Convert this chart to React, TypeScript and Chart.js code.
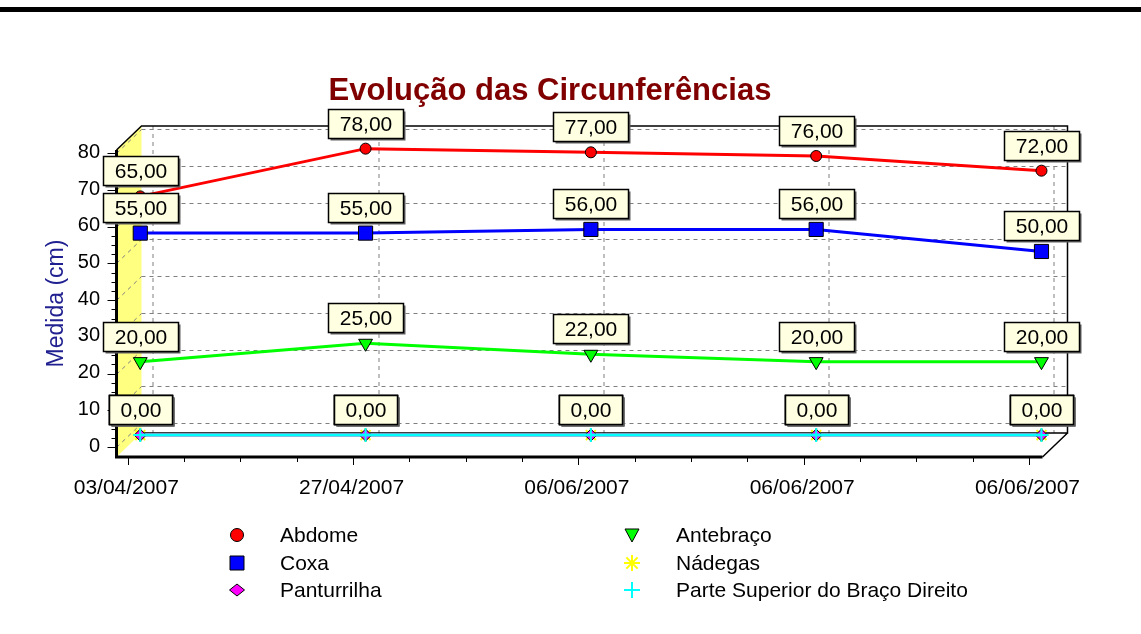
import React, { useEffect, useRef } from 'react';
import { Chart, registerables } from 'chart.js';

Chart.register(...registerables);

// ---- data ----
const dates = ['03/04/2007', '27/04/2007', '06/06/2007', '06/06/2007', '06/06/2007'];
const abdome = [65, 78, 77, 76, 72];
const coxa = [55, 55, 56, 56, 50];
const panturrilha = [0, 0, 0, 0, 0];
const antebraco = [20, 25, 22, 20, 20];
const nadegas = [0, 0, 0, 0, 0];
const bracoDireito = [0, 0, 0, 0, 0];
const yTickValues = [0, 10, 20, 30, 40, 50, 60, 70, 80];
const seriesNames = ['Abdome', 'Coxa', 'Panturrilha', 'Antebraço', 'Nádegas', 'Parte Superior do Braço Direito'];
const seriesValues = [abdome, coxa, panturrilha, antebraco, nadegas, bracoDireito];
const seriesColors = ['#ff0000', '#0000ff', '#ff00ff', '#00ff00', '#ffff00', '#00ffff'];
const seriesMarkers = ['circle', 'rect', 'rectRot', 'triangle', 'star', 'cross'];
const chartTitle = 'Evolução das Circunferências';
const yAxisTitle = 'Medida (cm)';

const FONT = '"Liberation Sans", Arial, sans-serif';
const DX = 12.5; // half depth
const DY = -12;

function fmt(v: number) {
  return v.toFixed(2).replace('.', ',');
}

function drawLegendMarker(ctx: CanvasRenderingContext2D, style: string, x: number, y: number, color: string) {
  ctx.save();
  ctx.fillStyle = color;
  ctx.strokeStyle = '#000';
  ctx.lineWidth = 1;
  ctx.beginPath();
  if (style === 'circle') {
    ctx.arc(x, y, 6.5, 0, Math.PI * 2);
    ctx.fill();
    ctx.stroke();
  } else if (style === 'rect') {
    ctx.rect(x - 7, y - 7, 14, 14);
    ctx.fill();
    ctx.stroke();
  } else if (style === 'rectRot') {
    ctx.moveTo(x, y - 6);
    ctx.lineTo(x + 7.5, y);
    ctx.lineTo(x, y + 6);
    ctx.lineTo(x - 7.5, y);
    ctx.closePath();
    ctx.fill();
    ctx.stroke();
  } else if (style === 'triangle') {
    ctx.moveTo(x - 7, y - 6);
    ctx.lineTo(x + 7, y - 6);
    ctx.lineTo(x, y + 7);
    ctx.closePath();
    ctx.fill();
    ctx.stroke();
  } else if (style === 'star') {
    ctx.strokeStyle = color;
    ctx.lineWidth = 2;
    const r = 8;
    for (let k = 0; k < 4; k++) {
      const a = (k * Math.PI) / 4;
      ctx.moveTo(x - r * Math.cos(a), y - r * Math.sin(a));
      ctx.lineTo(x + r * Math.cos(a), y + r * Math.sin(a));
    }
    ctx.stroke();
  } else if (style === 'cross') {
    ctx.strokeStyle = color;
    ctx.lineWidth = 2;
    ctx.moveTo(x - 8, y);
    ctx.lineTo(x + 8, y);
    ctx.moveTo(x, y - 8);
    ctx.lineTo(x, y + 8);
    ctx.stroke();
  }
  ctx.restore();
}

const box3dPlugin = {
  id: 'box3d',
  beforeDraw(chart: any) {
    const ctx = chart.ctx as CanvasRenderingContext2D;
    ctx.save();
    ctx.fillStyle = '#ffffff';
    ctx.fillRect(0, 0, chart.width, chart.height);
    ctx.fillStyle = '#000';
    ctx.fillRect(0, 7, chart.width, 5);
    // title
    ctx.font = `bold 31px ${FONT}`;
    ctx.fillStyle = '#800000';
    ctx.textAlign = 'center';
    ctx.textBaseline = 'middle';
    ctx.fillText(chartTitle, 550, 91);
    ctx.restore();
  },
  beforeDatasetsDraw(chart: any) {
    const ctx = chart.ctx as CanvasRenderingContext2D;
    const { left, right, top, bottom } = chart.chartArea;
    const xs = chart.scales.x;
    const ys = chart.scales.y;
    const fL = left - DX, fR = right - DX, fT = top - DY, fB = bottom - DY;
    const bL = left + DX, bR = right + DX, bT = top + DY, bB = bottom + DY;
    ctx.save();
    // left wall
    ctx.fillStyle = '#ffff80';
    ctx.beginPath();
    ctx.moveTo(fL, fT);
    ctx.lineTo(bL, bT);
    ctx.lineTo(bL, bB);
    ctx.lineTo(fL, fB);
    ctx.closePath();
    ctx.fill();

    // grid lines on back wall and left wall
    ctx.strokeStyle = '#808080';
    ctx.lineWidth = 1;
    ctx.setLineDash([4, 4]);
    yTickValues.forEach((v) => {
      const py = Math.round(ys.getPixelForValue(v)) + 0.5;
      ctx.beginPath();
      ctx.moveTo(bL, py + DY);
      ctx.lineTo(bR, py + DY);
      ctx.stroke();
      ctx.beginPath();
      ctx.moveTo(fL, py - DY);
      ctx.lineTo(bL, py + DY);
      ctx.stroke();
    });
    dates.forEach((_, i) => {
      const px = Math.round(xs.getPixelForValue(i)) + 0.5;
      ctx.beginPath();
      ctx.moveTo(px + DX, bT);
      ctx.lineTo(px + DX, bB);
      ctx.stroke();
    });
    ctx.setLineDash([]);

    // back wall edges
    ctx.strokeStyle = '#000';
    ctx.lineWidth = 1.5;
    ctx.beginPath();
    ctx.moveTo(fL, fT);
    ctx.lineTo(bL, bT);
    ctx.lineTo(bR, bT);
    ctx.lineTo(bR, bB);
    ctx.lineTo(bL, bB);
    ctx.moveTo(bR, bB);
    ctx.lineTo(fR, fB);
    ctx.stroke();

    // front axes
    ctx.lineWidth = 3;
    ctx.beginPath();
    ctx.moveTo(fL, fT);
    ctx.lineTo(fL, fB);
    ctx.lineTo(fR, fB);
    ctx.stroke();

    // ticks
    ctx.lineWidth = 1;
    ctx.strokeStyle = '#000';
    ctx.beginPath();
    yTickValues.forEach((v, k) => {
      const py = Math.round(ys.getPixelForValue(v) - DY) + 0.5;
      ctx.moveTo(fL - 9, py);
      ctx.lineTo(fL, py);
      if (k < yTickValues.length - 1) {
        const step = (yTickValues[k + 1] - v) / 4;
        for (let m = 1; m < 4; m++) {
          const my = Math.round(ys.getPixelForValue(v + m * step) - DY) + 0.5;
          ctx.moveTo(fL - 5, my);
          ctx.lineTo(fL, my);
        }
      }
    });
    dates.forEach((_, i) => {
      const px = Math.round(xs.getPixelForValue(i) - DX) + 0.5;
      ctx.moveTo(px, fB);
      ctx.lineTo(px, fB + 8);
      if (i < dates.length - 1) {
        for (let m = 1; m < 4; m++) {
          const mx = Math.round(xs.getPixelForValue(i + m / 4) - DX) + 0.5;
          ctx.moveTo(mx, fB);
          ctx.lineTo(mx, fB + 5);
        }
      }
    });
    ctx.stroke();
    ctx.restore();
  },
  afterDraw(chart: any) {
    const ctx = chart.ctx as CanvasRenderingContext2D;
    const { top, bottom } = chart.chartArea;
    ctx.save();
    // value labels
    ctx.font = `21px ${FONT}`;
    ctx.textAlign = 'center';
    ctx.textBaseline = 'middle';
    chart.data.datasets.forEach((ds: any, di: number) => {
      const meta = chart.getDatasetMeta(di);
      meta.data.forEach((pt: any, i: number) => {
        const txt = fmt(seriesValues[di][i]);
        const w = Math.round(ctx.measureText(txt).width) + 22;
        const h = 29;
        const x0 = Math.round(pt.x - w / 2) + 0.5;
        const y0 = Math.round(pt.y - 11 - h) + 0.5;
        ctx.fillStyle = '#606060';
        ctx.fillRect(x0 + 2, y0 + 2, w, h);
        ctx.fillStyle = '#ffffe1';
        ctx.fillRect(x0, y0, w, h);
        ctx.strokeStyle = '#000';
        ctx.lineWidth = 1.5;
        ctx.strokeRect(x0, y0, w, h);
        ctx.fillStyle = '#000';
        ctx.fillText(txt, x0 + w / 2, y0 + h / 2 + 1);
      });
    });

    // y axis title
    ctx.save();
    ctx.translate(57, (top - DY + bottom - DY) / 2);
    ctx.rotate(-Math.PI / 2);
    ctx.font = `23px ${FONT}`;
    ctx.fillStyle = '#202090';
    ctx.textAlign = 'center';
    ctx.textBaseline = 'middle';
    ctx.fillText(yAxisTitle, 0, 0);
    ctx.restore();

    // legend (two columns, three rows)
    ctx.font = `21px ${FONT}`;
    ctx.textAlign = 'left';
    ctx.textBaseline = 'middle';
    const colMarkerX = [237, 632];
    const colTextX = [280, 676];
    const rowY = [535, 563, 590];
    chart.data.datasets.forEach((ds: any, di: number) => {
      const col = Math.floor(di / 3);
      const row = di % 3;
      drawLegendMarker(ctx, seriesMarkers[di], colMarkerX[col], rowY[row], seriesColors[di]);
      ctx.fillStyle = '#000';
      ctx.fillText(ds.label, colTextX[col], rowY[row] + 1);
    });
    ctx.restore();
  },
};

export default function App() {
  const canvasRef = useRef<HTMLCanvasElement | null>(null);

  useEffect(() => {
    const canvas = canvasRef.current;
    if (!canvas) return;
    const datasets = seriesNames.map((name, i) => ({
      label: name,
      data: seriesValues[i].map((v, k) => ({ x: k, y: v })),
      borderColor: seriesColors[i],
      backgroundColor: seriesColors[i],
      borderWidth: 3,
      pointStyle: seriesMarkers[i] as any,
      pointRotation: seriesMarkers[i] === 'triangle' ? 180 : 0,
      pointRadius: [5.5, 10, 6, 8, 7, 7][i],
      pointBorderColor: ['#000', '#000', '#000', '#000', '#ffff00', '#00ffff'][i],
      pointBorderWidth: [1, 1, 1, 1, 2, 2][i],
      pointBackgroundColor: seriesColors[i],
      tension: 0,
      clip: false as any,
      order: i === 5 ? 0 : 1,
    }));

    const chart = new Chart(canvas, {
      type: 'line',
      data: { datasets },
      plugins: [box3dPlugin],
      options: {
        animation: false,
        responsive: false,
        maintainAspectRatio: false,
        events: [],
        layout: { padding: { left: 0, right: 86, top: 138, bottom: 129 } },
        plugins: {
          legend: { display: false },
          tooltip: { enabled: false },
          title: { display: false },
        },
        scales: {
          x: {
            type: 'linear',
            min: -0.05,
            max: 4.06,
            afterBuildTicks: (s: any) => {
              s.ticks = dates.map((_, i) => ({ value: i }));
            },
            afterFit: (s: any) => {
              s.height = 60;
            },
            ticks: {
              callback: (v: any) => dates[v as number],
              labelOffset: -14,
              padding: 23,
              autoSkip: false,
              maxRotation: 0,
              color: '#000',
              font: { family: FONT, size: 21 },
            },
            grid: { display: false },
            border: { display: false },
          },
          y: {
            type: 'linear',
            min: -2.7,
            max: 80.9,
            afterBuildTicks: (s: any) => {
              s.ticks = yTickValues.map((v) => ({ value: v }));
            },
            afterFit: (s: any) => {
              s.width = 129;
            },
            ticks: {
              callback: (v: any) => String(v),
              labelOffset: 11,
              padding: 21,
              color: '#000',
              font: { family: FONT, size: 20 },
            },
            grid: { display: false },
            border: { display: false },
          },
        },
      } as any,
    });
    return () => chart.destroy();
  }, []);

  return (
    <div style={{ position: 'absolute', left: 0, top: 0, width: 1141, height: 634 }}>
      <canvas ref={canvasRef} width={1141} height={634} style={{ display: 'block' }} />
    </div>
  );
}
